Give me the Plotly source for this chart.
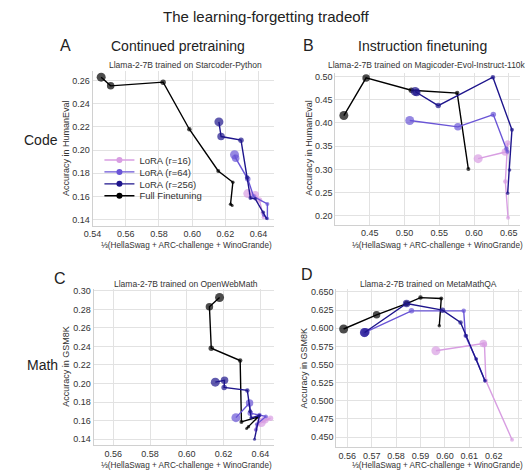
import plotly.graph_objects as go

W, H = 525, 471

# ---------------- data ----------------
# Panel A: Code, continued pretraining (Starcoder-Python)
a_r16_x = [0.6335, 0.6380, 0.6405, 0.6425, 0.6430]
a_r16_y = [0.1625, 0.1615, 0.1570, 0.1460, 0.1420]
a_r64_x = [0.6255, 0.6262, 0.6335, 0.6370, 0.6453, 0.6453, 0.6430]
a_r64_y = [0.1960, 0.1930, 0.1750, 0.1600, 0.1535, 0.1410, 0.1440]
a_r256_x = [0.6161, 0.6174, 0.6294, 0.6331, 0.6351, 0.6380, 0.6428, 0.6448]
a_r256_y = [0.2243, 0.2117, 0.2086, 0.1763, 0.1586, 0.1580, 0.1463, 0.1410]
a_full_x = [0.5452, 0.5509, 0.5825, 0.5983, 0.6157, 0.6245, 0.6231, 0.6241]
a_full_y = [0.2629, 0.2554, 0.2586, 0.2180, 0.1820, 0.1723, 0.1534, 0.1523]

# Panel B: Code, instruction finetuning (Magicoder-Evol-Instruct-110k)
b_r16_x = [0.6059, 0.6450, 0.6483, 0.6450, 0.6489]
b_r16_y = [0.3233, 0.3375, 0.3570, 0.2740, 0.1960]
b_r64_x = [0.5075, 0.5768, 0.6277, 0.6465, 0.6480]
b_r64_y = [0.4053, 0.3917, 0.4182, 0.3447, 0.3380]
b_r256_x = [0.5154, 0.5175, 0.5485, 0.6271, 0.6545, 0.6511, 0.6483]
b_r256_y = [0.4680, 0.4655, 0.4374, 0.4985, 0.3853, 0.2990, 0.2490]
b_full_x = [0.4128, 0.4448, 0.5098, 0.5758, 0.5918]
b_full_y = [0.4160, 0.4970, 0.4705, 0.4644, 0.3010]

# Panel C: Math, continued pretraining (OpenWebMath)
c_r16_x = [0.6405, 0.6425, 0.6455, 0.6385, 0.6375]
c_r16_y = [0.1580, 0.1610, 0.1625, 0.1560, 0.1505]
c_r64_x = [0.6267, 0.6341, 0.6345, 0.6395, 0.6430, 0.6380, 0.6375]
c_r64_y = [0.1632, 0.1790, 0.1680, 0.1660, 0.1645, 0.1560, 0.1500]
c_r256_x = [0.6155, 0.6205, 0.6203, 0.6329, 0.6345, 0.6350, 0.6395, 0.6368]
c_r256_y = [0.2015, 0.2035, 0.1958, 0.1926, 0.1700, 0.1630, 0.1655, 0.1400]
c_full_x = [0.6178, 0.6123, 0.6133, 0.6290, 0.6297, 0.6388, 0.6335, 0.6325]
c_full_y = [0.2928, 0.2828, 0.2381, 0.2248, 0.1586, 0.1640, 0.1535, 0.1515]

# Panel D: Math, instruction finetuning (MetaMathQA)
d_r16_x = [0.5963, 0.6157, 0.6162, 0.6168, 0.6275]
d_r16_y = [0.5690, 0.5790, 0.5775, 0.5277, 0.4465]
d_r64_x = [0.5670, 0.5677, 0.5863, 0.6077, 0.6084, 0.6128, 0.6164]
d_r64_y = [0.5940, 0.5952, 0.6240, 0.6240, 0.5897, 0.5576, 0.5277]
d_r256_x = [0.5671, 0.5843, 0.5990, 0.6064, 0.6087, 0.6128, 0.6164]
d_r256_y = [0.5942, 0.6341, 0.6250, 0.6080, 0.5897, 0.5576, 0.5277]
d_full_x = [0.5585, 0.5720, 0.5843, 0.5900, 0.5985, 0.5977]
d_full_y = [0.5990, 0.6185, 0.6341, 0.6423, 0.6410, 0.6035]

series_names = ["LoRA (r=16)", "LoRA (r=64)", "LoRA (r=256)", "Full Finetuning"]
col_titles = ["Continued pretraining", "Instruction finetuning"]
row_titles = ["Code", "Math"]
panel_letters = ["A", "B", "C", "D"]
subtitles = ["Llama-2-7B trained on Starcoder-Python",
             "Llama-2-7B trained on Magicoder-Evol-Instruct-110k",
             "Llama-2-7B trained on OpenWebMath",
             "Llama-2-7B trained on MetaMathQA"]
y_titles = ["Accuracy in HumanEval", "Accuracy in HumanEval",
            "Accuracy in GSM8K", "Accuracy in GSM8K"]
x_title = "⅓(HellaSwag + ARC-challenge + WinoGrande)"

panels = [
    [(a_r16_x, a_r16_y), (a_r64_x, a_r64_y), (a_r256_x, a_r256_y), (a_full_x, a_full_y)],
    [(b_r16_x, b_r16_y), (b_r64_x, b_r64_y), (b_r256_x, b_r256_y), (b_full_x, b_full_y)],
    [(c_r16_x, c_r16_y), (c_r64_x, c_r64_y), (c_r256_x, c_r256_y), (c_full_x, c_full_y)],
    [(d_r16_x, d_r16_y), (d_r64_x, d_r64_y), (d_r256_x, d_r256_y), (d_full_x, d_full_y)],
]

# ---------------- style ----------------
colors = ["#d89ee2", "#6a55d6", "#1e158c", "#000000"]
FONT = "Liberation Sans, Arial, Helvetica, sans-serif"
TXT = "#333333"
GRID = "#e2e2e2"

def px_x(p):
    return p / W

def px_y(p):
    return 1 - p / H

# panel boxes in pixels: (left, right, top, bottom)
boxes = [(85, 270, 68, 224), (332, 520, 70, 223), (86, 270, 288, 445), (333, 522, 288, 447)]
x_ranges = [[0.540, 0.6495], [0.4005, 0.6662], [0.5493, 0.6476], [0.5555, 0.6316]]
y_ranges = [[0.1349, 0.2686], [0.1815, 0.5085], [0.1335, 0.3018], [0.4362, 0.6539]]
x_dticks = [0.02, 0.05, 0.02, 0.01]
y_dticks = [0.02, 0.05, 0.02, 0.025]
x_fmts = [".2f", ".2f", ".2f", ".2f"]
y_fmts = [".2f", ".2f", ".2f", ".3f"]
x_tick0 = [0.54, 0.45, 0.56, 0.56]
y_tick0 = [0.14, 0.20, 0.14, 0.45]

def sizes(n):
    base = [9, 7.5, 5.5, 4.5, 4, 3.5, 3.5, 3, 3]
    return [base[min(i, len(base) - 1)] for i in range(n)]

fig = go.Figure()
for k, panel in enumerate(panels):
    xa = "x" if k == 0 else f"x{k+1}"
    ya = "y" if k == 0 else f"y{k+1}"
    order = [3, 0, 1, 2]
    for s in order:
        xs, ys = panel[s]
        fig.add_trace(go.Scatter(
            x=xs, y=ys, mode="lines+markers", name=series_names[s],
            xaxis=xa, yaxis=ya,
            line=dict(color=colors[s], width=1.4),
            marker=dict(color=colors[s], size=sizes(len(xs)), line=dict(width=0)),
            showlegend=False,
        ))

# legend-only traces (panel A), one legend box per entry for tight spacing
legend_ids = ["legend", "legend2", "legend3", "legend4"]
for s in range(4):
    fig.add_trace(go.Scatter(
        x=[None], y=[None], mode="lines+markers", name=series_names[s],
        xaxis="x", yaxis="y", legend=legend_ids[s],
        line=dict(color=colors[s], width=1.4),
        marker=dict(color=colors[s], size=6),
        showlegend=True,
    ))

layout = dict(
    width=W, height=H,
    margin=dict(l=0, r=0, t=0, b=0),
    paper_bgcolor="white", plot_bgcolor="white",
    font=dict(family=FONT, color=TXT, size=9),
    annotations=[],
)

legend_rows = [158, 170, 182, 194]
for s in range(4):
    layout[legend_ids[s]] = dict(
        x=px_x(92), y=px_y(legend_rows[s]), xanchor="left", yanchor="middle",
        bgcolor="rgba(255,255,255,0)", font=dict(size=9.5, color=TXT),
        itemwidth=30, borderwidth=0)

for k in range(4):
    l, r, t, b = boxes[k]
    xk = "xaxis" if k == 0 else f"xaxis{k+1}"
    yk = "yaxis" if k == 0 else f"yaxis{k+1}"
    xa_id = "x" if k == 0 else f"x{k+1}"
    ya_id = "y" if k == 0 else f"y{k+1}"
    layout[xk] = dict(domain=[px_x(l), px_x(r)], anchor=ya_id, range=x_ranges[k],
                      tick0=x_tick0[k], dtick=x_dticks[k], tickformat=x_fmts[k],
                      showgrid=True, gridcolor=GRID, gridwidth=1, zeroline=False,
                      showline=True, linecolor="#d0d0d0", linewidth=1,
                      ticks="", ticklen=0, tickfont=dict(size=9, color=TXT))
    layout[yk] = dict(domain=[px_y(b), px_y(t)], anchor=xa_id, range=y_ranges[k],
                      tick0=y_tick0[k], dtick=y_dticks[k], tickformat=y_fmts[k],
                      showgrid=True, gridcolor=GRID, gridwidth=1, zeroline=False,
                      showline=True, linecolor="#d0d0d0", linewidth=1,
                      ticks="", ticklen=0, tickfont=dict(size=9, color=TXT))

ann = layout["annotations"]

def add_text(text, x, y, size, xanchor="center", yanchor="middle", angle=0, color="#222222"):
    ann.append(dict(text=text, x=px_x(x), y=px_y(y), xref="paper", yref="paper",
                    showarrow=False, xanchor=xanchor, yanchor=yanchor, textangle=angle,
                    font=dict(size=size, color=color, family=FONT)))

add_text("The learning-forgetting tradeoff", 262, 14, 15)
add_text(panel_letters[0], 57, 43, 16)
add_text(panel_letters[1], 305, 43, 16)
add_text(panel_letters[2], 52, 277, 16)
add_text(panel_letters[3], 303, 273, 16)
add_text(col_titles[0], 172, 43, 14)
add_text(col_titles[1], 421, 43, 14)
add_text(row_titles[0], 33, 138, 14)
add_text(row_titles[1], 34, 364, 14)

sub_pos = [(180, 62), (425, 62), (180, 283), (427, 283)]
for k in range(4):
    add_text(subtitles[k], sub_pos[k][0], sub_pos[k][1], 8.5, color=TXT)

ytitle_pos = [(58, 146), (305, 146), (58, 366), (300, 367)]
for k in range(4):
    add_text(y_titles[k], ytitle_pos[k][0], ytitle_pos[k][1], 9, angle=-90, color=TXT)

xtitle_pos = [(181, 244), (436, 244), (181, 465.5), (436, 465.5)]
for k in range(4):
    add_text(x_title, xtitle_pos[k][0], xtitle_pos[k][1], 8.2, color=TXT)

fig.update_layout(**layout)
fig.write_html("out.html")
